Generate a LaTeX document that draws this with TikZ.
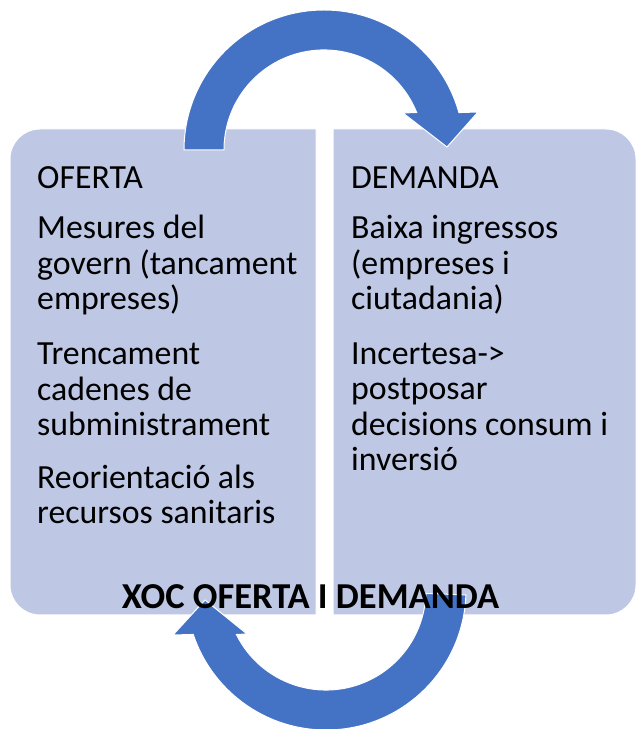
\documentclass[tikz,border=0pt]{standalone}
\usepackage{fontspec}
\setmainfont{Carlito}
\usepackage{xcolor}
\usepackage{tikz}
\definecolor{arrowblue}{RGB}{68,114,196}
\definecolor{panelblue}{RGB}{190,200,228}

\begin{document}
\begin{tikzpicture}[x=1pt, y=1pt, inner sep=0pt,
    font={\fontsize{33.8}{35.5}\selectfont\lineskiplimit=-100pt},
    panel/.style={fill=panelblue, draw=white, line width=1pt},
    cyclearrow/.style={fill=arrowblue, draw=white, line width=1pt},
    item/.style={anchor=base west, align=left}]
    \useasboundingbox (0,0) rectangle (637,729);
    % panels
    \draw[panel] (316,600) -- (40,600) arc[start angle=90, end angle=180, radius=30]
      -- (10,144) arc[start angle=180, end angle=270, radius=30] -- (316,114) -- cycle;
    \draw[panel] (333,600) -- (606,600) arc[start angle=90, end angle=0, radius=30]
      -- (636,144) arc[start angle=0, end angle=-90, radius=30] -- (333,114) -- cycle;
    % top arrow
    \draw[cyclearrow] (184,579) arc[start angle=180, end angle=15.5, radius=140]
      -- (478,617) -- (447,582) -- (403,616) -- (416.7,616.5)
      arc[start angle=22, end angle=180, radius=100] -- cycle;
    % bottom arrow
    \draw[cyclearrow] (465.9,134.1) arc[start angle=-2, end angle=-161.5, radius=140]
      -- (173,94) -- (205,129) -- (247,95) -- (236.4,94.5)
      arc[start angle=-153.6, end angle=-2, radius=100] -- cycle;
    % texts, anchored at the baseline of their last line
    \node[item] (oferta) at (37,540) {OFERTA};
    \node[item] (mesures) at (37,419) {Mesures del\\govern (tancament\\empreses)};
    \node[item] (trencament) at (37,293) {Trencament\\cadenes de\\subministrament};
    \node[item] (reorientacio) at (37,205) {Reorientació als\\recursos sanitaris};
    \node[item] (demanda) at (351,540) {DEMANDA};
    \node[item] (baixa) at (351,419) {Baixa ingressos\\(empreses i\\ciutadania)};
    \node[item] (incertesa) at (351,258) {Incertesa->\\postposar\\decisions consum i\\inversió};
    \node[anchor=base, font=\bfseries\fontsize{36.5}{44}\selectfont] (xoc) at (310.5,120) {XOC OFERTA I DEMANDA};
\end{tikzpicture}
\end{document}
